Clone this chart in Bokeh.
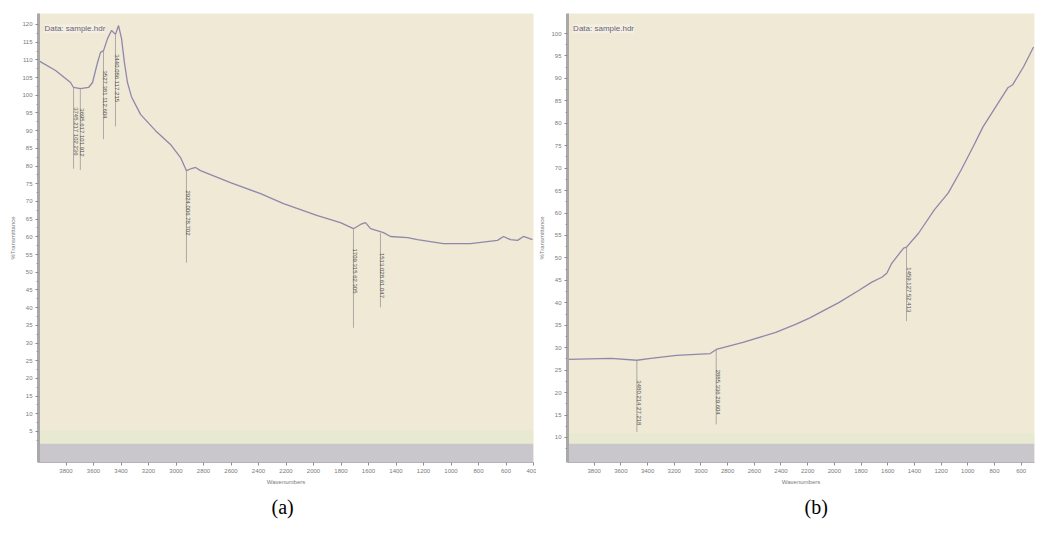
import math
from bokeh.plotting import figure
from bokeh.models import Range1d, FixedTicker, BoxAnnotation, Label, ColumnDataSource, Title
from bokeh.layouts import row
from bokeh.embed import file_html
from bokeh.resources import INLINE
from bokeh.core.properties import value

# ---------------- data: panel (a) ----------------
wn_a = [4000, 3876, 3767, 3745, 3695, 3636, 3607, 3571, 3549, 3527, 3498, 3469, 3440, 3418, 3396,
        3375, 3353, 3324, 3258, 3149, 3040, 2967, 2924, 2887, 2858, 2822, 2604, 2385, 2218, 1971,
        1804, 1709, 1658, 1622, 1585, 1491, 1440, 1316, 1244, 1055, 858, 662, 618, 567, 516, 473, 407]
t_a = [109.8, 107.0, 103.6, 102.2, 101.9, 102.2, 103.6, 109.2, 112.1, 112.6, 116.0, 118.3, 117.2, 119.7, 116.0,
       109.2, 103.6, 99.6, 94.6, 90.0, 86.1, 82.4, 78.7, 79.3, 79.6, 78.7, 75.3, 72.2, 69.4, 66.0,
       64.0, 62.3, 63.5, 64.0, 62.3, 61.2, 60.1, 59.8, 59.2, 58.1, 58.1, 59.0, 60.1, 59.2, 59.0, 60.1, 59.2]
peak_wn_a = [3745.217, 3695.617, 3527.381, 3440.086, 2924.006, 1709.315, 1513.028]
peak_t_a = [102.236, 101.912, 112.604, 117.215, 78.702, 62.305, 61.047]
peak_len_a = [23, 23, 25, 26, 26, 28, 21]
x_ticks_a = [3800, 3600, 3400, 3200, 3000, 2800, 2600, 2400, 2200, 2000, 1800, 1600, 1400, 1200, 1000, 800, 600, 400]
y_ticks_a = [5, 10, 15, 20, 25, 30, 35, 40, 45, 50, 55, 60, 65, 70, 75, 80, 85, 90, 95, 100, 105, 110, 115, 120]

# ---------------- data: panel (b) ----------------
wn_b = [3995, 3673, 3480, 3376, 3183, 2930, 2885, 2685, 2439, 2291, 2187, 1964, 1815, 1719, 1644,
        1607, 1570, 1481, 1459, 1369, 1251, 1146, 1050, 961, 886, 805, 700, 663, 582, 507]
t_b = [27.4, 27.6, 27.2, 27.6, 28.3, 28.7, 29.6, 31.2, 33.4, 35.2, 36.6, 40.1, 42.8, 44.6, 45.7,
       46.6, 48.8, 52.2, 52.4, 55.5, 60.7, 64.5, 69.6, 74.7, 79.2, 83.0, 87.9, 88.6, 92.6, 97.0]
peak_wn_b = [3480.214, 2885.336, 1459.127]
peak_t_b = [27.218, 29.604, 52.413]
peak_len_b = [16, 16.7, 16.5]
x_ticks_b = [3800, 3600, 3400, 3200, 3000, 2800, 2600, 2400, 2200, 2000, 1800, 1600, 1400, 1200, 1000, 800, 600]
y_ticks_b = [10, 15, 20, 25, 30, 35, 40, 45, 50, 55, 60, 65, 70, 75, 80, 85, 90, 95, 100]

FONT = "Liberation Sans"
BG = "#efe9d5"
CURVE = "#8f88ab"


def panel(wn, t, pk_wn, pk_t, pk_len, xt, yt, xr, yr, band_top, stripe_top, width,
          bl, br, caption, cap_off, txt_gap, title):
    p = figure(width=width, height=538, x_range=Range1d(*xr), y_range=Range1d(*yr),
               output_backend="svg", toolbar_location=None,
               min_border_left=bl, min_border_right=br, min_border_top=13, min_border_bottom=76,
               background_fill_color=BG, border_fill_color="white", outline_line_color=None)
    p.grid.visible = False

    # bottom gray band and faint stripe
    p.add_layout(BoxAnnotation(top=band_top, fill_color="#c9c6cc", fill_alpha=1.0,
                               line_color=None, level="underlay"))
    p.add_layout(BoxAnnotation(bottom=band_top, top=stripe_top, fill_color="#e8e9d1",
                               fill_alpha=1.0, line_color=None, level="underlay"))

    # axes
    p.xaxis.ticker = FixedTicker(ticks=xt)
    p.yaxis.ticker = FixedTicker(ticks=yt, minor_ticks=[v - 2.5 for v in yt])
    for ax in (p.xaxis, p.yaxis):
        ax.major_label_text_font = FONT
        ax.major_label_text_font_size = "6px"
        ax.major_label_text_color = "#7a7a7a"
        ax.axis_label_text_font = FONT
        ax.axis_label_text_font_size = "6px"
        ax.axis_label_text_font_style = "normal"
        ax.axis_label_text_color = "#7a7a7a"
        ax.major_tick_in = 0
        ax.major_tick_out = 3
        ax.major_tick_line_color = "#8c8c8c"
        ax.major_label_standoff = 3
        ax.axis_label_standoff = 3
    p.xaxis.minor_tick_line_color = None
    p.xaxis.axis_line_color = "#b5b2b9"
    p.xaxis.axis_label = "Wavenumbers"
    p.yaxis.axis_label = "%Transmittance"
    p.yaxis.axis_line_color = "#a9a9a9"
    p.yaxis.axis_line_width = 3
    p.yaxis.minor_tick_in = 0
    p.yaxis.minor_tick_out = 2
    p.yaxis.minor_tick_line_color = "#9a9a9a"

    # spectrum
    p.line(wn, t, line_color=CURVE, line_width=1.3)

    # peak markers
    src = ColumnDataSource(dict(
        x=pk_wn, y0=pk_t, y1=[a - b for a, b in zip(pk_t, pk_len)],
        ty=[a - txt_gap for a in pk_t],
        lab=["%.3f  %.3f" % (a, b) for a, b in zip(pk_wn, pk_t)]))
    p.segment(x0="x", y0="y0", x1="x", y1="y1", source=src, line_color="#9a9a9a", line_width=0.8)
    p.text(x="x", y="ty", text="lab", source=src, angle=-math.pi / 2, text_align="left",
           text_baseline="middle", x_offset=2, text_font=value(FONT), text_font_size="6px",
           text_color="#555555")

    # data file label
    p.add_layout(Label(x=xr[0] - (xr[0] - xr[1]) * 0.012, y=yr[1] - (yr[1] - yr[0]) * 0.034,
                       text=title, text_font=FONT, text_font_size="8px", text_color="#6b6378",
                       text_baseline="middle", background_fill_color="#f4f0e6",
                       background_fill_alpha=0.8))

    # caption below the panel
    p.add_layout(Title(text=caption, align="left", offset=cap_off, standoff=12,
                       text_font="Liberation Serif", text_font_size="20px",
                       text_font_style="normal", text_color="black"), "below")
    return p


pa = panel(wn_a, t_a, peak_wn_a, peak_t_a, peak_len_a, x_ticks_a, y_ticks_a,
           (4000, 400), (-3.76, 123.1), 1.61, 5.28, 536, 38, 3, "(a)", 233, 5.6,
           "Data: sample.hdr")
pb = panel(wn_b, t_b, peak_wn_b, peak_t_b, peak_len_b, x_ticks_b, y_ticks_b,
           (4000, 500), (4.42, 104.46), 8.66, 10.9, 502, 27, 4, "(b)", 237, 4.5,
           "Data: sample.hdr")

layout = row(pa, pb)
open("out.html", "w").write(file_html(layout, INLINE))
